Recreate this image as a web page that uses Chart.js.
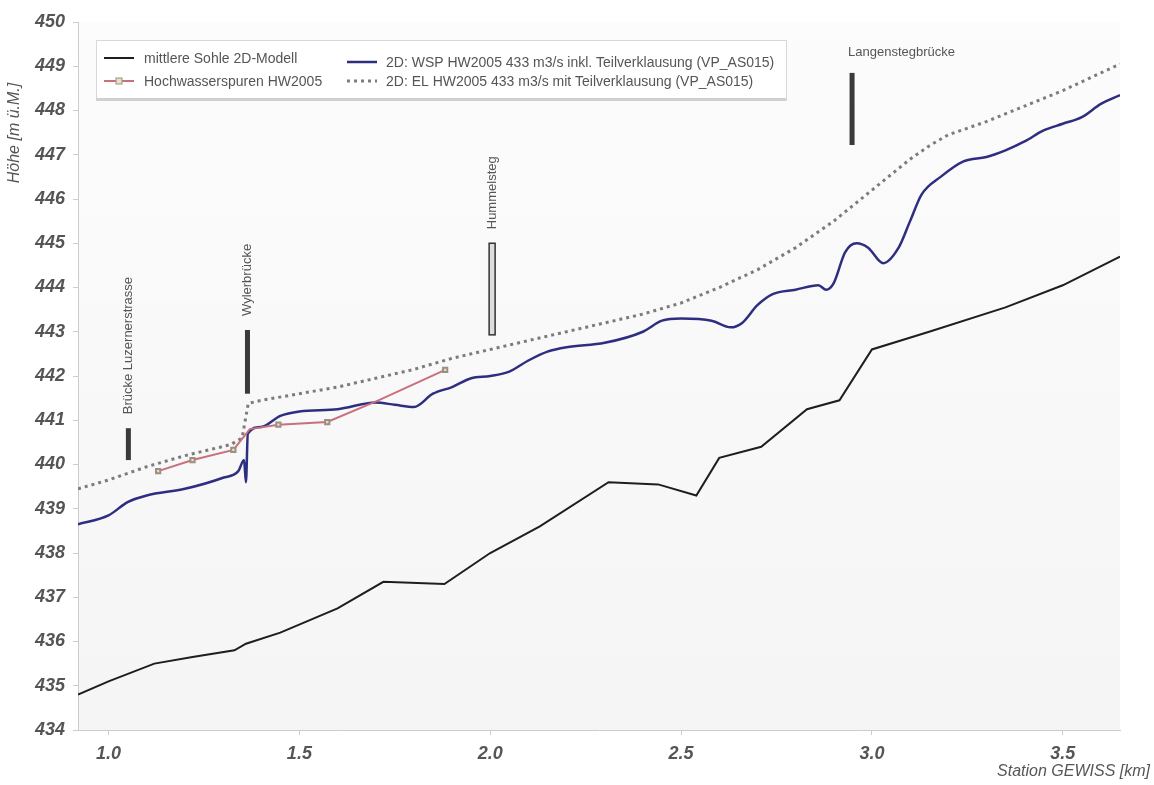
<!DOCTYPE html>
<html><head><meta charset="utf-8">
<script src="https://cdn.jsdelivr.net/npm/chart.js@4.4.1/dist/chart.umd.min.js"></script>
<style>html,body{margin:0;padding:0;background:#fff}#wrap{width:1154px;height:785px;position:relative}</style>
</head><body><div id="wrap"><canvas id="c" width="1154" height="785"></canvas></div>
<script>
// ---- data ----
const bedKm = [0.92,1.0,1.12,1.22,1.33,1.36,1.45,1.6,1.72,1.88,2.0,2.13,2.31,2.44,2.54,2.6,2.71,2.83,2.915,3.0,3.15,3.35,3.5,3.65];
const bedH  = [434.8,435.1,435.5,435.65,435.8,435.95,436.2,436.75,437.35,437.3,438.0,438.6,439.6,439.55,439.3,440.15,440.4,441.25,441.45,442.6,443.0,443.55,444.05,444.7];

const wspKm = [0.92,1.0,1.05,1.1,1.2,1.3,1.34,1.355,1.36,1.365,1.4,1.45,1.5,1.6,1.7,1.75,1.8,1.85,1.9,1.95,2.0,2.05,2.1,2.15,2.2,2.3,2.4,2.45,2.5,2.58,2.63,2.66,2.7,2.74,2.8,2.86,2.88,2.9,2.93,2.96,2.99,3.03,3.07,3.1,3.13,3.18,3.24,3.3,3.35,3.4,3.45,3.5,3.55,3.6,3.65];
const wspH  = [438.65,438.85,439.15,439.3,439.45,439.7,439.85,440.1,439.6,440.7,440.85,441.1,441.2,441.25,441.4,441.35,441.3,441.6,441.75,441.95,442.0,442.1,442.35,442.55,442.65,442.75,443.0,443.25,443.3,443.25,443.1,443.2,443.6,443.85,443.95,444.05,443.95,444.1,444.8,445.0,444.9,444.55,444.9,445.5,446.1,446.5,446.85,446.95,447.1,447.3,447.55,447.7,447.85,448.15,448.35];

const hwKm = [1.13,1.22,1.327,1.37,1.445,1.573,1.707,1.882];
const hwH  = [439.85,440.1,440.33,440.8,440.9,440.96,441.45,442.14];

const elKm = [0.92,1.0,1.1,1.2,1.32,1.35,1.366,1.4,1.5,1.6,1.7,1.8,1.9,2.0,2.2,2.4,2.5,2.6,2.7,2.8,2.9,3.0,3.1,3.15,3.2,3.3,3.4,3.5,3.6,3.65];
const elH  = [439.45,439.65,439.95,440.2,440.45,440.6,441.38,441.45,441.6,441.75,441.95,442.15,442.4,442.6,443.0,443.4,443.65,444.0,444.4,444.9,445.5,446.2,446.9,447.2,447.45,447.75,448.1,448.45,448.85,449.05];

const xTickValues = [1.0,1.5,2.0,2.5,3.0,3.5];
const yTickValues = [434,435,436,437,438,439,440,441,442,443,444,445,446,447,448,449,450];

const bridgeNames = ['Brücke Luzernerstrasse','Wylerbrücke','Hummelsteg','Langenstegbrücke'];
const bridgeKm    = [1.052,1.364,2.005,2.948];
const bridgeLow   = [440.1,441.6,442.93,447.22];
const bridgeHigh  = [440.82,443.04,445.0,448.85];

const seriesLabels = ['mittlere Sohle 2D-Modell','Hochwasserspuren HW2005','2D: WSP HW2005 433 m3/s inkl. Teilverklausung (VP_AS015)','2D: EL HW2005 433 m3/s mit Teilverklausung (VP_AS015)'];
const xTitle = 'Station GEWISS [km]';
const yTitle = 'Höhe [m ü.M.]';

const pts = (xs, ys) => xs.map((x, i) => ({x, y: ys[i]}));

// ---- plugins ----
const bgPlugin = {
  id: 'bg',
  beforeDraw(chart) {
    const {ctx, chartArea: a} = chart;
    ctx.save();
    const g = ctx.createLinearGradient(0, a.top, 0, a.bottom);
    g.addColorStop(0, '#fcfcfc');
    g.addColorStop(1, '#f5f5f5');
    ctx.fillStyle = g;
    ctx.fillRect(a.left, a.top, a.right - a.left, a.bottom - a.top);
    ctx.restore();
  }
};

const annoPlugin = {
  id: 'anno',
  afterDatasetsDraw(chart) {
    const {ctx, scales: {x, y}} = chart;
    ctx.save();
    ctx.font = '13px "Liberation Sans", Arial, sans-serif';
    bridgeNames.forEach((name, i) => {
      const px = x.getPixelForValue(bridgeKm[i]);
      const yl = y.getPixelForValue(bridgeLow[i]);
      const yh = y.getPixelForValue(bridgeHigh[i]);
      if (i === 2) {
        ctx.fillStyle = '#ddd';
        ctx.fillRect(px - 3, yh, 6, yl - yh);
        ctx.strokeStyle = '#333';
        ctx.lineWidth = 1.5;
        ctx.strokeRect(px - 3, yh, 6, yl - yh);
      } else {
        ctx.fillStyle = '#3a3a3a';
        ctx.fillRect(px - 2.5, yh, 5, yl - yh);
      }
      ctx.fillStyle = '#555';
      if (i === 3) {
        ctx.textAlign = 'left';
        ctx.textBaseline = 'middle';
        ctx.fillText(name, px - 4, yh - 20);
      } else {
        ctx.save();
        ctx.translate(px, yh - 14);
        ctx.rotate(-Math.PI / 2);
        ctx.textAlign = 'left';
        ctx.textBaseline = 'middle';
        ctx.fillText(name, 0, 0);
        ctx.restore();
      }
    });
    ctx.restore();
  }
};

const legendPlugin = {
  id: 'boxLegend',
  afterDraw(chart) {
    const {ctx} = chart;
    const L = 96, T = 40, W = 690, H = 60;
    ctx.save();
    ctx.fillStyle = '#fff';
    ctx.fillRect(L, T, W, H);
    ctx.strokeStyle = '#d8d8d8';
    ctx.lineWidth = 1;
    ctx.strokeRect(L + 0.5, T + 0.5, W, H);
    ctx.fillStyle = '#d0d0d0';
    ctx.fillRect(L, T + H - 2, W, 3);
    const ds = chart.data.datasets;
    const entries = [
      {d: ds[0], x: 104, y: 58, tx: 144},
      {d: ds[1], x: 104, y: 81, tx: 144},
      {d: ds[2], x: 347, y: 62, tx: 386},
      {d: ds[3], x: 347, y: 81, tx: 386}
    ];
    ctx.font = '14px "Liberation Sans", Arial, sans-serif';
    ctx.textBaseline = 'middle';
    entries.forEach(e => {
      ctx.save();
      ctx.strokeStyle = e.d.borderColor;
      ctx.lineWidth = e.d.borderWidth;
      ctx.setLineDash(e.d.borderDash || []);
      ctx.beginPath();
      ctx.moveTo(e.x, e.y);
      ctx.lineTo(e.x + 30, e.y);
      ctx.stroke();
      ctx.setLineDash([]);
      if (e.d === ds[1]) {
        ctx.fillStyle = e.d.pointBackgroundColor;
        ctx.strokeStyle = e.d.pointBorderColor;
        ctx.lineWidth = 1;
        ctx.fillRect(e.x + 12, e.y - 3, 6, 6);
        ctx.strokeRect(e.x + 12, e.y - 3, 6, 6);
      }
      ctx.restore();
      ctx.fillStyle = '#555';
      ctx.textAlign = 'left';
      ctx.fillText(e.d.label, e.tx, e.y + 1);
    });
    ctx.restore();
  }
};

const titlesPlugin = {
  id: 'titles',
  afterDraw(chart) {
    const {ctx} = chart;
    ctx.save();
    ctx.fillStyle = '#555';
    ctx.font = 'italic 16px "Liberation Sans", Arial, sans-serif';
    ctx.textAlign = 'right';
    ctx.textBaseline = 'middle';
    ctx.fillText(xTitle, 1150, 772);
    ctx.translate(15, 133);
    ctx.rotate(-Math.PI / 2);
    ctx.textAlign = 'center';
    ctx.fillText(yTitle, 0, 0);
    ctx.restore();
  }
};

new Chart(document.getElementById('c'), {
  type: 'line',
  data: {
    datasets: [
      {label: seriesLabels[0], data: pts(bedKm, bedH), borderColor: '#1e1e1e', borderWidth: 2, pointRadius: 0, tension: 0, order: 3},
      {label: seriesLabels[1], data: pts(hwKm, hwH), borderColor: '#c8707c', borderWidth: 2, pointRadius: [3,3,3,0,3,3,0,3], pointStyle: 'rect', pointBackgroundColor: '#e8e0c8', pointBorderColor: '#9a8f80', tension: 0, order: 1},
      {label: seriesLabels[2], data: pts(wspKm, wspH), borderColor: '#2e2e80', borderWidth: 2.5, pointRadius: 0, cubicInterpolationMode: 'monotone', order: 2},
      {label: seriesLabels[3], data: pts(elKm, elH), borderColor: '#7c7c7c', borderWidth: 3, borderDash: [3, 4], pointRadius: 0, tension: 0, order: 4}
    ]
  },
  options: {
    responsive: false,
    animation: false,
    devicePixelRatio: 1,
    layout: {padding: {top: 22, right: 34, left: 0, bottom: 0}},
    plugins: {legend: {display: false}, tooltip: {enabled: false}},
    scales: {
      x: {
        type: 'linear', min: 0.92, max: 3.65,
        afterBuildTicks: s => { s.ticks = xTickValues.map(v => ({value: v})); },
        afterFit: s => { s.height = 55; },
        ticks: {callback: v => v.toFixed(1), color: '#555', font: {family: '"Liberation Sans", Arial, sans-serif', size: 18, style: 'italic', weight: 'bold'}, padding: 8, maxRotation: 0},
        grid: {drawOnChartArea: false, tickLength: 5, color: '#ccc'},
        border: {color: '#ccc'}
      },
      y: {
        type: 'linear', min: 434, max: 450,
        afterBuildTicks: s => { s.ticks = yTickValues.map(v => ({value: v})); },
        afterFit: s => { s.width = 78; },
        ticks: {color: '#555', font: {family: '"Liberation Sans", Arial, sans-serif', size: 18, style: 'italic', weight: 'bold'}, padding: 8},
        grid: {drawOnChartArea: false, tickLength: 5, color: '#ccc'},
        border: {color: '#ccc'}
      }
    }
  },
  plugins: [bgPlugin, annoPlugin, legendPlugin, titlesPlugin]
});
</script>
</body></html>
